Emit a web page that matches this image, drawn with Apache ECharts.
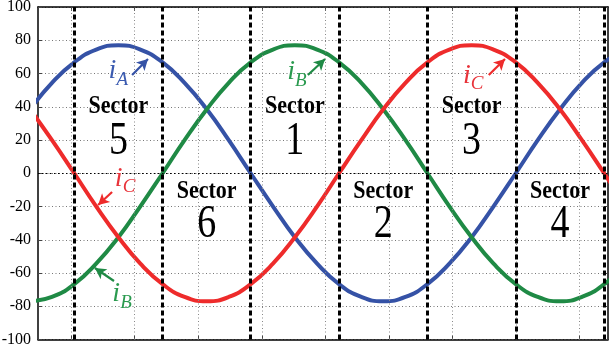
<!DOCTYPE html>
<html>
<head>
<meta charset="utf-8">
<script src="https://cdn.jsdelivr.net/npm/echarts@6/dist/echarts.min.js"></script>
<style>
html, body { margin: 0; padding: 0; background: #fff; }
#chart { width: 609px; height: 353px; }
</style>
</head>
<body>
<div id="chart"></div>
<script>
// Three-phase stator currents (A) over one 60 Hz cycle, sampled every 15 electrical degrees
const timeMs = [-1.29, -0.60, 0.10, 0.79, 1.49, 2.18, 2.88, 3.57, 4.27, 4.96, 5.65, 6.35, 7.04, 7.74,
  8.43, 9.13, 9.82, 10.52, 11.21, 11.90, 12.60, 13.29, 13.99, 14.68, 15.38, 16.07, 16.77, 17.46];
const iA = [38.5, 54.4, 66.7, 74.4, 77, 74.4, 66.7, 54.4, 38.5, 19.9, 0, -19.9, -38.5, -54.4,
  -66.7, -74.4, -77, -74.4, -66.7, -54.4, -38.5, -19.9, 0, 19.9, 38.5, 54.4, 66.7, 74.4];
const iB = [-77, -74.4, -66.7, -54.4, -38.5, -19.9, 0, 19.9, 38.5, 54.4, 66.7, 74.4, 77, 74.4,
  66.7, 54.4, 38.5, 19.9, 0, -19.9, -38.5, -54.4, -66.7, -74.4, -77, -74.4, -66.7, -54.4];
const iC = [38.5, 19.9, 0, -19.9, -38.5, -54.4, -66.7, -74.4, -77, -74.4, -66.7, -54.4, -38.5, -19.9,
  0, 19.9, 38.5, 54.4, 66.7, 74.4, 77, 74.4, 66.7, 54.4, 38.5, 19.9, 0, -19.9];

// Sector boundaries (zero crossings) and sector numbering left to right
const sectorEdges = [0.10, 2.88, 5.65, 8.43, 11.21, 13.99, 16.77];
const sectorNames = ['5', '6', '1', '2', '3', '4'];
// Vertical grid / tick positions (ms) and y tick values
const gridTimes = [0, 2, 4, 6, 8, 10, 12, 14, 16];
const yTicks = [-100, -80, -60, -40, -20, 0, 20, 40, 60, 80, 100];

const SERIF = 'Liberation Serif';
const BLUE = '#3552a6', GREEN = '#1f8a45', RED = '#ee2b2b';
const BLUE_T = '#3b5bb0', GREEN_T = '#2a9a4f', RED_T = '#e8333a';

const chart = echarts.init(document.getElementById('chart'), null, { renderer: 'canvas' });

const pairs = (ys) => timeMs.map((t, i) => [t, ys[i]]);

// Current name tags: [time, value] of the italic "i", subscript letter, colour
const tags = [
  { at: [1.30, 61.5], sub: 'A', color: BLUE_T },
  { at: [6.92, 61.0], sub: 'B', color: GREEN_T },
  { at: [12.45, 59.0], sub: 'C', color: RED_T },
  { at: [1.50, -3.0], sub: 'C', color: RED_T },
  { at: [1.42, -72.5], sub: 'B', color: GREEN_T }
];
const arrow = (from, to, color) => [
  { coord: from, lineStyle: { color: color, width: 2.2, type: 'solid' } },
  { coord: to }
];
const arrows = [
  arrow([1.92, 59.1], [2.42, 68.7], BLUE),
  arrow([7.45, 59.1], [7.99, 68.7], GREEN),
  arrow([13.14, 59.1], [13.65, 68.7], RED),
  arrow([1.29, -11.3], [0.85, -19.1], RED),
  arrow([1.35, -64.8], [0.75, -57.0], GREEN)
];

const frameLine = { show: true, onZero: false, lineStyle: { color: '#000', width: 1.5 } };
const xBase = {
  type: 'value', min: -1.04, max: 16.89,
  axisLine: frameLine,
  axisTick: { show: true, inside: true, length: 4, customValues: gridTimes, lineStyle: { color: '#444', width: 1 } },
  axisLabel: { show: false },
  splitLine: { show: false }
};

const option = {
  animation: false,
  backgroundColor: '#fff',
  grid: { left: 38, right: 1, top: 7, bottom: 13.5 },
  xAxis: [
    Object.assign({ position: 'bottom' }, xBase),
    Object.assign({ position: 'top' }, xBase)
  ],
  yAxis: [
    {
      type: 'value', min: -100, max: 100, interval: 20, position: 'left',
      axisLine: frameLine,
      axisTick: { show: true, inside: true, length: 4, lineStyle: { color: '#444' } },
      axisLabel: { show: false },
      splitLine: { show: true, lineStyle: { type: [1, 2.5], color: '#777', width: 1 } }
    },
    {
      type: 'value', min: -100, max: 100, interval: 20, position: 'right',
      axisLine: frameLine,
      axisTick: { show: true, inside: true, length: 4, lineStyle: { color: '#444' } },
      axisLabel: { show: false },
      splitLine: { show: false }
    }
  ],
  series: [
    {
      // background guides: vertical dotted grid and the zero line
      type: 'line', data: [], silent: true, z: 1,
      markLine: {
        silent: true, symbol: 'none', label: { show: false },
        lineStyle: { type: [1, 2.5], color: '#888', width: 1 },
        data: gridTimes.map(t => ({ xAxis: t })).concat([
          { yAxis: 0, lineStyle: { type: [1.5, 2.5], color: '#000', width: 1 } }
        ])
      }
    },
    { name: 'iA', type: 'line', data: pairs(iA), smooth: true, showSymbol: false, z: 3,
      lineStyle: { color: BLUE, width: 4 } },
    { name: 'iB', type: 'line', data: pairs(iB), smooth: true, showSymbol: false, z: 3,
      lineStyle: { color: GREEN, width: 4 } },
    { name: 'iC', type: 'line', data: pairs(iC), smooth: true, showSymbol: false, z: 3,
      lineStyle: { color: RED, width: 4 } },
    {
      // sector boundaries
      type: 'line', data: [], silent: true, z: 5,
      markLine: {
        silent: true, symbol: 'none', label: { show: false },
        lineStyle: { type: [5, 3], color: '#000', width: 3 },
        data: sectorEdges.map(t => ({ xAxis: t }))
      }
    },
    {
      // arrows pointing at the curves
      type: 'line', data: [], silent: true, z: 6,
      markLine: {
        silent: true, symbol: ['none', 'arrow'], symbolSize: [9, 11], label: { show: false },
        data: arrows
      }
    }
  ]
};

chart.setOption(option);

// Text is placed through the axes' own coordinate conversion
const toPx = (pt) => chart.convertToPixel({ seriesIndex: 1 }, pt);
const texts = [];

// y tick labels
yTicks.forEach(v => {
  const y = chart.convertToPixel({ yAxisIndex: 0 }, v);
  texts.push({
    type: 'text', x: 31, y: y, z: 10,
    style: { text: String(v), font: '16px ' + SERIF, fill: '#000', align: 'right', verticalAlign: 'middle' }
  });
});

// Sector captions: upper row for 5, 1, 3 and lower row for 6, 2, 4
sectorNames.forEach((name, k) => {
  const mid = (sectorEdges[k] + sectorEdges[k + 1]) / 2;
  const upper = k % 2 === 0;
  const p1 = toPx([mid, upper ? 39.8 : -11.3]);
  const p2 = toPx([mid, upper ? 18.8 : -31.1]);
  texts.push({
    type: 'text', x: p1[0], y: p1[1], scaleY: 1.1, z: 10,
    style: { text: 'Sector', font: 'bold 22px ' + SERIF, fill: '#000', align: 'center', verticalAlign: 'middle' }
  });
  texts.push({
    type: 'text', x: p2[0], y: p2[1], scaleY: 1.2, z: 10,
    style: { text: name, font: '38px ' + SERIF, fill: '#000', align: 'center', verticalAlign: 'middle' }
  });
});

// Current tags: italic i with a lowered subscript letter
tags.forEach(tg => {
  const p = toPx(tg.at);
  texts.push({
    type: 'text', x: p[0], y: p[1], z: 10,
    style: { text: 'i', font: 'italic 28px ' + SERIF, fill: tg.color, align: 'center', verticalAlign: 'middle' }
  });
  texts.push({
    type: 'text', x: p[0] + 4, y: p[1] + 9, z: 10,
    style: { text: tg.sub, font: 'italic 19px ' + SERIF, fill: tg.color, align: 'left', verticalAlign: 'middle' }
  });
});

chart.setOption({ graphic: texts });
</script>
</body>
</html>
